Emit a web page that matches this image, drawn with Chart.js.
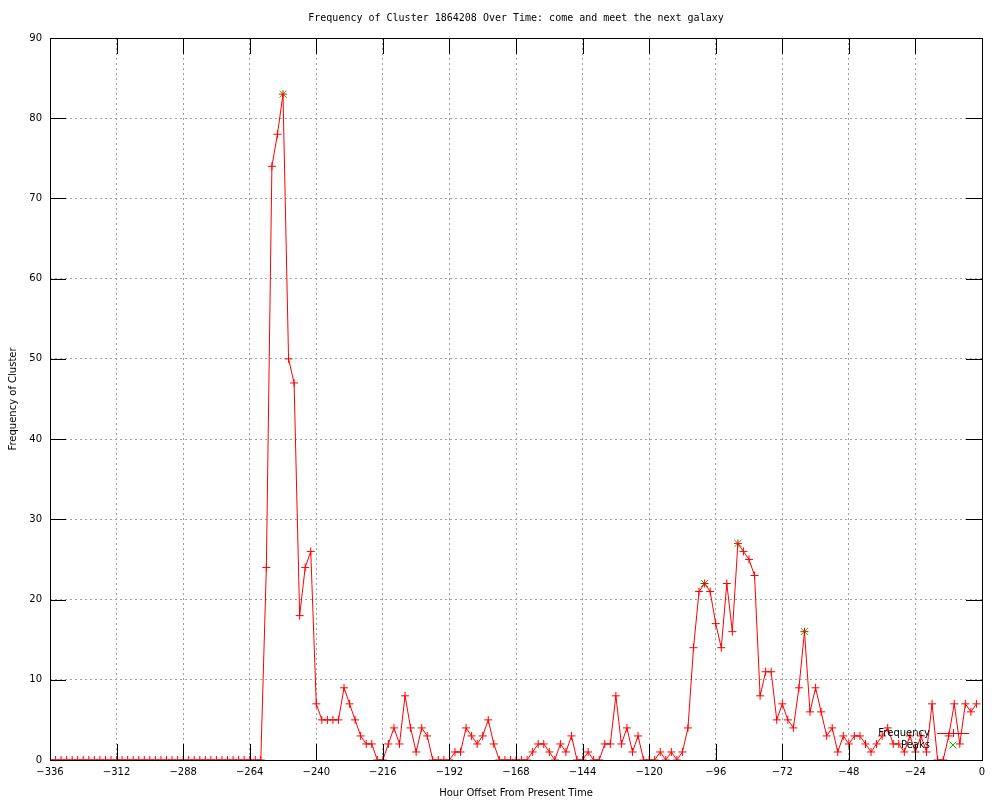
<!DOCTYPE html>
<html>
<head>
<meta charset="utf-8">
<script src="https://cdn.jsdelivr.net/npm/chart.js@4.4.1/dist/chart.umd.min.js"></script>
<style>
html,body{margin:0;padding:0;background:#fff;}
#wrap{width:1000px;height:800px;}
</style>
</head>
<body>
<div id="wrap"><canvas id="c" width="1000" height="800"></canvas></div>
<script>
const titleText = "Frequency of Cluster 1864208 Over Time: come and meet the next galaxy";
const xAxisLabel = "Hour Offset From Present Time";
const yAxisLabel = "Frequency of Cluster";
const seriesNames = ["Frequency", "Peaks"];

const hours = [
 -336,-334,-332,-330,-328,-326,-324,-322,-320,-318,-316,-314,-312,-310,-308,-306,-304,-302,-300,-298,
 -296,-294,-292,-290,-288,-286,-284,-282,-280,-278,-276,-274,-272,-270,-268,-266,-264,-262,-260,-258,
 -256,-254,-252,-250,-248,-246,-244,-242,-240,-238,-236,-234,-232,-230,-228,-226,-224,-222,-220,-218,
 -216,-214,-212,-210,-208,-206,-204,-202,-200,-198,-196,-194,-192,-190,-188,-186,-184,-182,-180,-178,
 -176,-174,-172,-170,-168,-166,-164,-162,-160,-158,-156,-154,-152,-150,-148,-146,-144,-142,-140,-138,
 -136,-134,-132,-130,-128,-126,-124,-122,-120,-118,-116,-114,-112,-110,-108,-106,-104,-102,-100,-98,
 -96,-94,-92,-90,-88,-86,-84,-82,-80,-78,-76,-74,-72,-70,-68,-66,-64,-62,-60,-58,
 -56,-54,-52,-50,-48,-46,-44,-42,-40,-38,-36,-34,-32,-30,-28,-26,-24,-22,-20,-18,
 -16,-14,-12,-10,-8,-6,-4,-2
];
const frequency = [
 0,0,0,0,0,0,0,0,0,0,0,0,0,0,0,0,0,0,0,0,
 0,0,0,0,0,0,0,0,0,0,0,0,0,0,0,0,0,0,0,24,
 74,78,83,50,47,18,24,26,7,5,5,5,5,9,7,5,3,2,2,0,
 0,2,4,2,8,4,1,4,3,0,0,0,0,1,1,4,3,2,3,5,
 2,0,0,0,0,0,0,1,2,2,1,0,2,1,3,0,0,1,0,0,
 2,2,8,2,4,1,3,0,0,0,1,0,1,0,1,4,14,21,22,21,
 17,14,22,16,27,26,25,23,8,11,11,5,7,5,4,9,16,6,9,6,
 3,4,1,3,2,3,3,2,1,2,3,4,2,2,1,3,1,3,1,7,
 0,0,3,7,2,7,6,7
];
const peakHours = [-252, -100, -88, -64];
const peakValues = [83, 22, 27, 16];
const xTicks = [-336,-312,-288,-264,-240,-216,-192,-168,-144,-120,-96,-72,-48,-24,0];
const yTicks = [0,10,20,30,40,50,60,70,80,90];

const lblFont = {family: "'DejaVu Sans', sans-serif", size: 10};
const TICK = 16;

const framePlugin = {
  id: 'frame',
  afterDatasetsDraw(chart) {
    const {ctx, chartArea: a, scales} = chart;
    ctx.save();
    ctx.strokeStyle = '#000';
    ctx.lineWidth = 1;
    ctx.beginPath();
    xTicks.forEach(v => {
      const px = Math.round(scales.x.getPixelForValue(v)) + 0.5;
      ctx.moveTo(px, a.bottom); ctx.lineTo(px, a.bottom - TICK);
      ctx.moveTo(px, a.top); ctx.lineTo(px, a.top + TICK);
    });
    yTicks.forEach(v => {
      const py = Math.round(scales.y.getPixelForValue(v)) + 0.5;
      ctx.moveTo(a.left, py); ctx.lineTo(a.left + TICK, py);
      ctx.moveTo(a.right, py); ctx.lineTo(a.right - TICK, py);
    });
    ctx.stroke();
    ctx.strokeRect(Math.round(a.left) + 0.5, Math.round(a.top) + 0.5,
                   Math.round(a.right - a.left), Math.round(a.bottom - a.top));
    ctx.restore();
  },
  afterDraw(chart) {
    const {ctx, chartArea: a} = chart;
    ctx.save();
    ctx.font = "10px 'DejaVu Sans', sans-serif";
    ctx.fillStyle = '#000';
    ctx.textAlign = 'right';
    ctx.textBaseline = 'middle';
    const tx = a.right - 52, y1 = a.bottom - 27, y2 = a.bottom - 15;
    ctx.fillText(seriesNames[0], tx, y1);
    ctx.fillText(seriesNames[1], tx, y2);
    const sx1 = a.right - 45, sx2 = a.right - 13, sc = (sx1 + sx2) / 2;
    ctx.strokeStyle = '#ff0000';
    ctx.lineWidth = 1;
    ctx.beginPath();
    ctx.moveTo(sx1, y1 + 0.5); ctx.lineTo(sx2, y1 + 0.5);
    ctx.moveTo(sc + 0.5, y1 - 4); ctx.lineTo(sc + 0.5, y1 + 4);
    ctx.stroke();
    ctx.strokeStyle = '#00c000';
    ctx.beginPath();
    ctx.moveTo(sc - 3.5, y2 - 3.5); ctx.lineTo(sc + 3.5, y2 + 3.5);
    ctx.moveTo(sc - 3.5, y2 + 3.5); ctx.lineTo(sc + 3.5, y2 - 3.5);
    ctx.stroke();
    ctx.restore();
  }
};

new Chart(document.getElementById('c'), {
  type: 'scatter',
  data: {
    datasets: [
      {
        label: seriesNames[1],
        data: peakHours.map((h, i) => ({x: h, y: peakValues[i]})),
        showLine: false,
        pointStyle: 'crossRot',
        pointRadius: 5,
        pointBorderColor: '#00c000',
        pointBorderWidth: 1,
        borderColor: '#00c000',
        order: 1
      },
      {
        label: seriesNames[0],
        data: hours.map((h, i) => ({x: h, y: frequency[i]})),
        showLine: true,
        borderColor: '#ff0000',
        borderWidth: 1,
        pointStyle: 'cross',
        pointRadius: 4,
        pointBorderColor: '#ff0000',
        pointBorderWidth: 1,
        tension: 0,
        fill: false,
        order: 0
      }
    ]
  },
  options: {
    responsive: false,
    devicePixelRatio: 1,
    animation: false,
    layout: {padding: {left: 0, right: 18, top: 0, bottom: 0}},
    plugins: {
      legend: {display: false},
      tooltip: {enabled: false},
      title: {
        display: true,
        text: titleText,
        fullSize: false,
        color: '#000',
        font: {family: "'DejaVu Sans Mono', monospace", size: 10, weight: 'normal'},
        padding: {top: 12, bottom: 14}
      }
    },
    scales: {
      x: {
        type: 'linear',
        min: -336, max: 0,
        afterBuildTicks: s => { s.ticks = xTicks.map(v => ({value: v})); },
        afterFit: s => { s.height = 40; },
        ticks: {color: '#000', font: lblFont, padding: 6, autoSkip: false, maxRotation: 0,
                callback: v => String(v).replace('-', '\u2212')},
        grid: {color: '#a0a0a0', lineWidth: 1, drawTicks: false},
        border: {display: false, dash: [2, 3]},
        title: {display: true, text: xAxisLabel, color: '#000', font: lblFont, padding: {top: 0, bottom: 1}}
      },
      y: {
        type: 'linear',
        min: 0, max: 90,
        afterBuildTicks: s => { s.ticks = yTicks.map(v => ({value: v})); },
        afterFit: s => { s.width = 50; },
        ticks: {color: '#000', font: lblFont, padding: 8},
        grid: {color: '#a0a0a0', lineWidth: 1, drawTicks: false},
        border: {display: false, dash: [2, 3]},
        title: {display: true, text: yAxisLabel, color: '#000', font: lblFont, padding: {top: 7, bottom: 0}}
      }
    }
  },
  plugins: [framePlugin]
});
</script>
</body>
</html>
